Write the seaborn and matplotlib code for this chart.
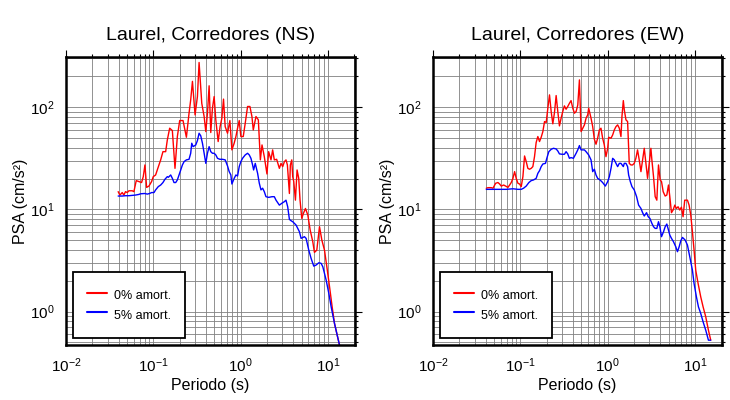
import numpy as np
import matplotlib
matplotlib.use("Agg")
import matplotlib.pyplot as plt
import seaborn as sns
from matplotlib.ticker import LogLocator, NullFormatter

# Laurel, Corredores (NS): periodo (s) y PSA (cm/s2)
t_ns_0 = [0.0396, 0.0414, 0.0441, 0.0460, 0.0481, 0.0503, 0.0526, 0.0574, 0.0600, 0.0638,
          0.0685, 0.0735, 0.0768, 0.0803, 0.0839, 0.0892, 0.0957, 0.1000, 0.1064, 0.1112,
          0.1162, 0.1216, 0.1291, 0.1387, 0.1449, 0.1542, 0.1655, 0.1774, 0.1888, 0.2009,
          0.2193, 0.2397, 0.2570, 0.2685, 0.2812, 0.3013, 0.3206, 0.3350, 0.3597, 0.3828,
          0.3999, 0.4178, 0.4365, 0.4560, 0.4765, 0.4984, 0.5207, 0.5541, 0.5834, 0.6109,
          0.6383, 0.6668, 0.7096, 0.7551, 0.7961, 0.8453, 0.8851, 0.9247, 0.9661, 1.009,
          1.074, 1.132, 1.204, 1.281, 1.351, 1.400, 1.503, 1.600, 1.687, 1.763,
          1.872, 2.009, 2.099, 2.234, 2.334, 2.439, 2.594, 2.786, 2.911, 3.042,
          3.181, 3.319, 3.443, 3.631, 3.724, 3.864, 3.963, 4.074, 4.256, 4.446,
          4.645, 4.809, 5.033, 5.258, 5.546, 5.902, 6.281, 6.730, 7.031, 7.482,
          8.035, 8.545, 9.165, 9.750, 10.47, 11.22, 11.94, 12.82, 13.63, 14.5]
psa_ns_0 = [14.9, 13.8, 14.6, 13.8, 14.9, 14.6, 15.2, 15.2, 14.9, 19.1,
            18.7, 18.3, 20.9, 27.2, 16.4, 16.9, 18.7, 20.9, 21.7, 24.3,
            27.2, 30.5, 36.7, 36.7, 47.8, 62.3, 59.0, 25.2, 51.6, 74.0,
            74.0, 50.8, 87.3, 118, 179, 84.1, 127, 274, 109, 81.0,
            57.7, 87.3, 162, 56.5, 97.7, 127, 75.2, 46.1, 64.6, 78.0,
            120, 64.6, 55.6, 74.0, 38.2, 44.4, 51.6, 62.3, 74.0, 51.6,
            51.6, 69.7, 101.6, 101.6, 81.0, 59.9, 81.0, 75.2, 30.5, 42.7,
            32.8, 22.2, 36.7, 30.5, 38.2, 30.5, 30.9, 25.2, 28.2, 26.2,
            29.3, 30.5, 27.2, 14.3, 27.2, 30.5, 20.9, 18.7, 12.3, 24.3,
            20.1, 12.3, 8.16, 9.14, 10.2, 8.80, 6.27, 4.82, 3.79, 3.99,
            6.76, 5.01, 3.99, 2.74, 1.75, 1.11, 0.763, 0.586, 0.468, 0.40]

t_ns_5 = [0.0396, 0.0441, 0.0481, 0.0526, 0.0574, 0.0626, 0.0685, 0.0714, 0.0803, 0.0853,
          0.0908, 0.0957, 0.1019, 0.1064, 0.1142, 0.1216, 0.1291, 0.1361, 0.1449, 0.1490,
          0.1584, 0.1655, 0.1729, 0.1808, 0.1888, 0.1974, 0.2064, 0.2157, 0.2254, 0.2397,
          0.2570, 0.2685, 0.2761, 0.2861, 0.3069, 0.3206, 0.3350, 0.3502, 0.3661, 0.3828,
          0.3999, 0.4178, 0.4365, 0.4560, 0.4765, 0.4984, 0.5207, 0.5446, 0.5794, 0.6214,
          0.6668, 0.7096, 0.7413, 0.7747, 0.7961, 0.8453, 0.8851, 0.9247, 0.9661, 1.009,
          1.055, 1.132, 1.204, 1.259, 1.316, 1.375, 1.412, 1.475, 1.570, 1.641,
          1.715, 1.791, 1.872, 1.957, 2.099, 2.295, 2.439, 2.551, 2.786, 2.987,
          3.181, 3.319, 3.472, 3.631, 3.794, 3.963, 4.328, 4.730, 4.943, 5.397,
          5.641, 6.053, 6.437, 6.906, 7.348, 7.888, 8.390, 8.770, 9.165, 9.574,
          10.28, 10.93, 11.94, 12.82, 13.63, 14.5]
psa_ns_5 = [13.5, 13.5, 13.6, 13.6, 13.7, 13.8, 14.0, 14.2, 14.3, 14.1,
            14.3, 14.6, 14.6, 15.5, 16.7, 17.3, 18.3, 19.7, 20.9, 20.6,
            21.7, 20.1, 18.3, 18.3, 19.4, 21.7, 24.3, 27.2, 29.3, 30.5,
            30.9, 35.4, 44.4, 41.1, 42.7, 47.1, 55.6, 52.4, 44.4, 35.4,
            28.2, 35.4, 41.1, 36.7, 35.4, 35.4, 34.1, 31.6, 30.9, 30.9,
            30.5, 26.6, 23.4, 21.7, 17.7, 20.1, 21.7, 21.2, 26.2, 29.3,
            31.6, 34.1, 35.4, 34.1, 31.6, 27.2, 24.3, 28.2, 22.5, 18.0,
            15.5, 16.1, 14.9, 13.3, 13.1, 13.3, 13.3, 12.3, 11.0, 11.5,
            11.9, 12.3, 10.6, 7.98, 7.74, 7.57, 7.02, 6.04, 5.20, 5.40,
            5.20, 3.99, 3.31, 2.78, 2.85, 3.00, 2.96, 2.74, 2.36, 2.03,
            1.50, 1.11, 0.763, 0.586, 0.468, 0.40]

# Laurel, Corredores (EW)
t_ew_0 = [0.0408, 0.0427, 0.0466, 0.0487, 0.0522, 0.0555, 0.0580, 0.0606, 0.0645, 0.0680,
          0.0722, 0.0755, 0.0788, 0.0824, 0.0861, 0.0899, 0.0940, 0.0982, 0.1026, 0.1072,
          0.1120, 0.1170, 0.1222, 0.1277, 0.1334, 0.1394, 0.1456, 0.1521, 0.1590, 0.1662,
          0.1737, 0.1815, 0.1897, 0.1982, 0.2070, 0.2163, 0.2260, 0.2361, 0.2467, 0.2577,
          0.2692, 0.2812, 0.2938, 0.3069, 0.3206, 0.3350, 0.3500, 0.3656, 0.3820, 0.3999,
          0.4178, 0.4365, 0.4560, 0.4764, 0.4977, 0.5200, 0.5433, 0.5675, 0.5929, 0.6081,
          0.6471, 0.6761, 0.7063, 0.7379, 0.7709, 0.8054, 0.8414, 0.8790, 0.9183, 0.9594,
          1.004, 1.030, 1.096, 1.145, 1.196, 1.250, 1.306, 1.364, 1.425, 1.463,
          1.517, 1.556, 1.626, 1.698, 1.774, 1.854, 1.936, 2.023, 2.113, 2.208,
          2.307, 2.415, 2.523, 2.636, 2.754, 2.877, 3.006, 3.140, 3.222, 3.366,
          3.516, 3.673, 3.837, 4.009, 4.155, 4.341, 4.576, 4.780, 4.994, 5.171,
          5.403, 5.644, 5.896, 6.160, 6.435, 6.723, 7.023, 7.337, 7.665, 8.237,
          8.605, 8.990, 9.392, 9.811, 10.25, 10.91, 11.70, 12.45, 13.35, 14.33, 15.23]
psa_ew_0 = [16.1, 16.3, 16.3, 16.1, 18.0, 18.3, 17.7, 16.9, 17.3, 16.9,
            16.4, 17.3, 18.3, 20.1, 23.4, 20.1, 18.0, 17.7, 16.7, 20.9,
            33.3, 29.3, 25.2, 24.7, 25.2, 26.2, 32.8, 45.1, 51.6, 46.1,
            50.8, 57.7, 72.3, 70.8, 97.7, 132, 90.7, 68.7, 88.7, 130,
            90.7, 65.6, 78.0, 90.7, 103, 95.5, 101.6, 109, 116, 97.7,
            87.3, 90.7, 105, 185, 57.7, 62.3, 67.1, 78.0, 84.1, 97.7,
            78.0, 64.6, 48.6, 43.4, 49.7, 59.9, 62.3, 49.7, 42.7, 32.8,
            39.6, 50.8, 49.7, 53.5, 59.9, 64.6, 67.1, 62.3, 51.6, 81.0,
            116, 94.2, 75.2, 72.3, 28.2, 27.2, 27.2, 28.2, 31.6, 38.2,
            30.5, 23.4, 30.5, 39.6, 28.2, 20.1, 28.2, 39.6, 30.5, 20.9,
            13.3, 12.3, 27.2, 19.4, 18.7, 14.9, 13.5, 13.8, 17.3, 13.3,
            9.28, 9.85, 11.0, 10.2, 10.6, 9.85, 10.5, 8.47, 12.3, 12.3,
            11.0, 8.80, 6.04, 3.99, 2.54, 1.88, 1.39, 1.11, 0.887, 0.656, 0.524]

t_ew_5 = [0.0408, 0.0532, 0.0691, 0.0824, 0.0940, 0.1026, 0.1091, 0.1170, 0.1255, 0.1334,
          0.1419, 0.1521, 0.1590, 0.1662, 0.1737, 0.1815, 0.1946, 0.2015, 0.2124, 0.2260,
          0.2402, 0.2577, 0.2692, 0.2812, 0.3017, 0.3206, 0.3350, 0.3500, 0.3656, 0.3820,
          0.4064, 0.4365, 0.4560, 0.4764, 0.4977, 0.5200, 0.5433, 0.5675, 0.6081, 0.6471,
          0.6761, 0.7063, 0.7379, 0.7709, 0.8203, 0.8790, 0.9441, 1.004, 1.049, 1.096,
          1.145, 1.196, 1.250, 1.306, 1.364, 1.425, 1.517, 1.556, 1.626, 1.698,
          1.745, 1.823, 1.905, 2.023, 2.153, 2.270, 2.415, 2.523, 2.636, 2.801,
          2.927, 3.057, 3.222, 3.366, 3.516, 3.673, 3.837, 3.980, 4.155, 4.383,
          4.576, 4.780, 4.994, 5.171, 5.403, 5.701, 6.058, 6.330, 6.617, 6.916,
          7.224, 7.748, 8.237, 8.756, 9.392, 9.811, 10.44, 11.01, 11.70, 12.45,
          13.35, 14.33, 15.23]
psa_ew_5 = [15.7, 15.7, 15.7, 15.9, 15.7, 15.7, 16.1, 16.9, 18.3, 19.1,
            19.4, 20.1, 22.5, 23.9, 26.2, 27.8, 28.2, 31.6, 36.7, 38.7,
            39.6, 39.0, 37.3, 34.9, 34.6, 34.6, 36.7, 34.9, 31.6, 32.1,
            31.6, 35.4, 38.2, 42.1, 38.2, 38.2, 38.2, 36.7, 34.1, 30.5,
            23.4, 24.7, 21.7, 20.1, 19.4, 18.3, 16.9, 18.7, 20.9, 25.2,
            31.6, 30.5, 28.2, 26.2, 28.2, 28.2, 26.2, 28.2, 28.2, 26.2,
            21.7, 18.7, 16.7, 15.5, 13.3, 11.0, 10.2, 9.28, 8.61, 9.28,
            8.47, 8.16, 7.29, 6.76, 6.51, 6.51, 7.57, 6.76, 5.40, 6.04,
            6.76, 7.18, 6.27, 5.60, 5.20, 4.82, 4.30, 3.85, 4.30, 4.93,
            5.31, 5.01, 4.47, 3.44, 2.54, 1.88, 1.39, 1.11, 0.956, 0.792,
            0.656, 0.524, 0.524]

titles = ["Laurel, Corredores (NS)", "Laurel, Corredores (EW)"]
labels = ["0% amort.", "5% amort."]

sns.set_style("white")
plt.rcParams['font.family'] = ['Liberation Sans', 'DejaVu Sans']
plt.rcParams['mathtext.fontset'] = 'custom'
plt.rcParams['mathtext.rm'] = 'Liberation Sans'
plt.rcParams['mathtext.it'] = 'Liberation Sans:italic'
plt.rcParams['text.color'] = 'black'
plt.rcParams['axes.labelcolor'] = 'black'
plt.rcParams['xtick.color'] = 'black'
plt.rcParams['ytick.color'] = 'black'

fig = plt.figure(figsize=(7.3, 4), dpi=100)
ax1 = fig.add_axes([66/730, 55/400, 289/730, 288/400])
ax2 = fig.add_axes([433/730, 55/400, 289/730, 288/400])

data = [(t_ns_0, psa_ns_0, t_ns_5, psa_ns_5), (t_ew_0, psa_ew_0, t_ew_5, psa_ew_5)]

for ax, title, (t0, p0, t5, p5) in zip([ax1, ax2], titles, data):
    sns.lineplot(x=t0, y=p0, ax=ax, color='#ff0000', lw=1, label=labels[0], sort=False, estimator=None)
    sns.lineplot(x=t5, y=p5, ax=ax, color='#0000ff', lw=1, label=labels[1], sort=False, estimator=None)
    ax.set_xscale('log')
    ax.set_yscale('log')
    ax.set_xlim(0.01, 20.5)
    ax.set_ylim(0.47, 310)
    ax.xaxis.set_major_locator(LogLocator(base=10, numticks=10))
    ax.xaxis.set_minor_locator(LogLocator(base=10, subs=np.arange(2, 10), numticks=10))
    ax.yaxis.set_major_locator(LogLocator(base=10, numticks=10))
    ax.yaxis.set_minor_locator(LogLocator(base=10, subs=np.arange(2, 10), numticks=10))
    ax.yaxis.set_minor_formatter(NullFormatter())
    ax.xaxis.set_minor_formatter(NullFormatter())
    ax.grid(True, which='both', color='#808080', lw=0.6)
    ax.set_axisbelow(True)
    ax.tick_params(which='both', direction='out', top=True, right=True,
                   width=0.8, labelsize=11)
    ax.tick_params(which='major', length=5)
    ax.tick_params(which='minor', length=2.5)
    for s in ax.spines.values():
        s.set_linewidth(1.8)
        s.set_color('black')
    ax.set_title(title, fontsize=14, pad=12)
    ax.set_xlabel("Periodo (s)", fontsize=11.5, labelpad=2)
    ax.set_ylabel("PSA (cm/s²)", fontsize=11.5, labelpad=1)
    leg = ax.legend(loc='lower left', bbox_to_anchor=(0.024, 0.024), fontsize=9,
                    frameon=True, fancybox=False, framealpha=1, edgecolor='black',
                    borderpad=1.1, labelspacing=0.0, handlelength=1.6, handleheight=2.0,
                    handletextpad=0.6, borderaxespad=0)
    leg.get_frame().set_linewidth(1.3)
    for h in leg.get_lines():
        h.set_linewidth(1.5)

fig.savefig("out.png", dpi=100)
